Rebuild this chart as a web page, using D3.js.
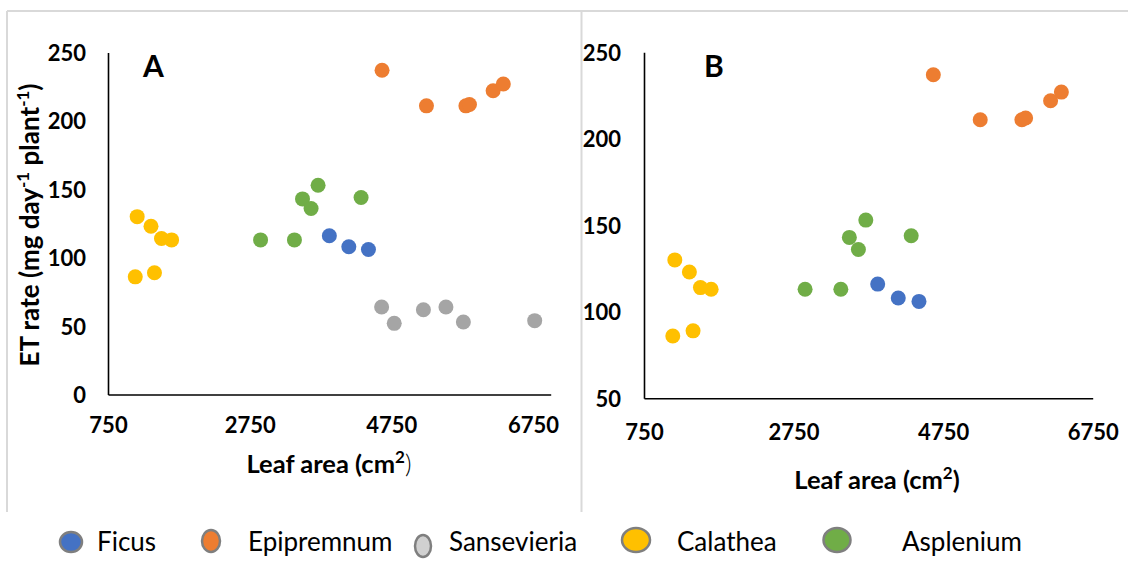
<!DOCTYPE html>
<html>
<head>
<meta charset="utf-8">
<script src="https://cdn.jsdelivr.net/npm/d3@7"></script>
<style>
  body { margin: 0; background: #fff; }
  svg { display: block; }
  text { font-family: Lato, "Open Sans", sans-serif; fill: #000; }
</style>
</head>
<body>
<svg id="chart" width="1128" height="561"></svg>
<script>
// ---- data: leaf area (cm²) and ET rate (mg day⁻¹ plant⁻¹) per species ----
const speciesNames = ["Ficus", "Epipremnum", "Sansevieria", "Calathea", "Asplenium"];
const speciesColors = ["#4472C4", "#ED7D31", "#A5A5A5", "#FFC000", "#70AD47"];

const ficusArea = [3875, 4150, 4427];
const ficusET = [116, 108, 106];
const epipremnumArea = [4619, 5246, 5803, 5853, 6187, 6331];
const epipremnumET = [237, 211, 211, 212, 222, 227];
const sansevieriaArea = [4613, 4791, 5203, 5521, 5767, 6774];
const sansevieriaET = [64, 52, 62, 64, 53, 54];
const calatheaArea = [1162, 1357, 1505, 1648, 1135, 1406];
const calatheaET = [130, 123, 114, 113, 86, 89];
const aspleniumArea = [2904, 3382, 3496, 3617, 3716, 4323];
const aspleniumET = [113, 113, 143, 136, 153, 144];

const xTicks = [750, 2750, 4750, 6750];
const yTicksA = [0, 50, 100, 150, 200, 250];
const yTicksB = [50, 100, 150, 200, 250];

const seriesAreas = [ficusArea, epipremnumArea, sansevieriaArea, calatheaArea, aspleniumArea];
const seriesET = [ficusET, epipremnumET, sansevieriaET, calatheaET, aspleniumET];

const series = speciesNames.map((name, i) => ({
  name,
  color: speciesColors[i],
  points: seriesAreas[i].map((a, j) => ({ area: a, et: seriesET[i][j] }))
}));

// ---- layout ----
const svg = d3.select("#chart");

// light panel frames
const frame = svg.append("g").attr("stroke", "#d9d9d9").attr("stroke-width", 2);
frame.append("line").attr("x1", 7).attr("x2", 1128).attr("y1", 11).attr("y2", 11);
frame.append("line").attr("x1", 7).attr("x2", 7).attr("y1", 11).attr("y2", 512);
frame.append("line").attr("x1", 581.5).attr("x2", 581.5).attr("y1", 11).attr("y2", 512);

const panels = [
  {
    letter: "A", left: 108, right: 550.7, top: 52.5, bottom: 394.5,
    xDomain: [750, 7000], yDomain: [0, 250], yTicks: yTicksA,
    include: speciesNames,
    yLabelGap: 22, xLabelGap: 30.5,
    titleX: 329, titleY: 473, thinParen: true, yTitle: true,
    letterX: 143
  },
  {
    letter: "B", left: 644, right: 1092.7, top: 52.3, bottom: 398.3,
    xDomain: [750, 6750], yDomain: [50, 250], yTicks: yTicksB,
    include: ["Ficus", "Epipremnum", "Calathea", "Asplenium"],
    yLabelGap: 23, xLabelGap: 33.4,
    titleX: 877, titleY: 489, thinParen: false, yTitle: false,
    letterX: 704
  }
];

const tickFont = sel => sel
  .style("font-family", "Lato").style("font-weight", 700).style("font-size", "22px").attr("fill", "#000");

panels.forEach(p => {
  const x = d3.scaleLinear().domain(p.xDomain).range([p.left, p.right]);
  const y = d3.scaleLinear().domain(p.yDomain).range([p.bottom, p.top]);
  const g = svg.append("g");

  // x axis
  const gx = g.append("g")
    .attr("transform", `translate(0,${p.bottom})`)
    .call(d3.axisBottom(x).tickValues(xTicks).tickSize(0).tickSizeOuter(0).tickFormat(d3.format("d")));
  gx.select(".domain").attr("stroke", "#000").attr("stroke-width", 1.6);
  gx.selectAll(".tick text").attr("y", p.xLabelGap).attr("dy", "0.36em").call(tickFont);

  // y axis
  const gy = g.append("g")
    .attr("transform", `translate(${p.left},0)`)
    .call(d3.axisLeft(y).tickValues(p.yTicks).tickSize(0).tickSizeOuter(0).tickFormat(d3.format("d")));
  gy.select(".domain").attr("stroke", "#000").attr("stroke-width", 1.6);
  gy.selectAll(".tick text").attr("x", -p.yLabelGap).attr("dy", "0.36em").call(tickFont);

  // panel letter
  g.append("text").attr("x", p.letterX).attr("y", 77)
    .style("font-weight", 700).style("font-size", "30px").text(p.letter);

  // x title
  const xt = g.append("text").attr("x", p.titleX).attr("y", p.titleY)
    .attr("text-anchor", "middle").style("font-weight", 700).style("font-size", "25.5px");
  xt.append("tspan").text("Leaf area (cm");
  xt.append("tspan").attr("baseline-shift", "super").style("font-size", "17px").text("2");
  xt.append("tspan").style("font-weight", p.thinParen ? 300 : 700).text(")");

  // y title
  if (p.yTitle) {
    const yt = g.append("text")
      .attr("transform", `translate(39,225) rotate(-90)`)
      .attr("text-anchor", "middle").style("font-weight", 700).style("font-size", "26px");
    yt.append("tspan").text("ET rate (mg day");
    yt.append("tspan").attr("baseline-shift", "super").style("font-size", "17px").text("-1");
    yt.append("tspan").text(" plant");
    yt.append("tspan").attr("baseline-shift", "super").style("font-size", "17px").text("-1");
    yt.append("tspan").text(")");
  }

  // points
  series.filter(s => p.include.includes(s.name)).forEach(s => {
    g.append("g").selectAll("circle").data(s.points).join("circle")
      .attr("cx", d => x(d.area))
      .attr("cy", d => y(d.et))
      .attr("r", 7.5)
      .attr("fill", s.color);
  });
});

// ---- legend ----
const legendLayout = [
  { cx: 71,  cy: 542, rx: 11,   ry: 10, tx: 97 },
  { cx: 211, cy: 541, rx: 9,    ry: 11, tx: 248 },
  { cx: 423, cy: 546, rx: 8,    ry: 11, tx: 449 },
  { cx: 636, cy: 540, rx: 14,   ry: 12, tx: 677 },
  { cx: 837, cy: 540, rx: 13.5, ry: 12, tx: 902 }
];
const legendFill = ["#4472C4", "#ED7D31", "#D0D0D0", "#FFC000", "#70AD47"];
const legend = svg.append("g");
speciesNames.forEach((name, i) => {
  const L = legendLayout[i];
  legend.append("ellipse")
    .attr("cx", L.cx).attr("cy", L.cy).attr("rx", L.rx).attr("ry", L.ry)
    .attr("fill", legendFill[i]).attr("stroke", "#7f7f7f").attr("stroke-width", 2.5);
  legend.append("text").attr("x", L.tx).attr("y", 551)
    .style("font-size", "26px").text(name);
});
</script>
</body>
</html>
